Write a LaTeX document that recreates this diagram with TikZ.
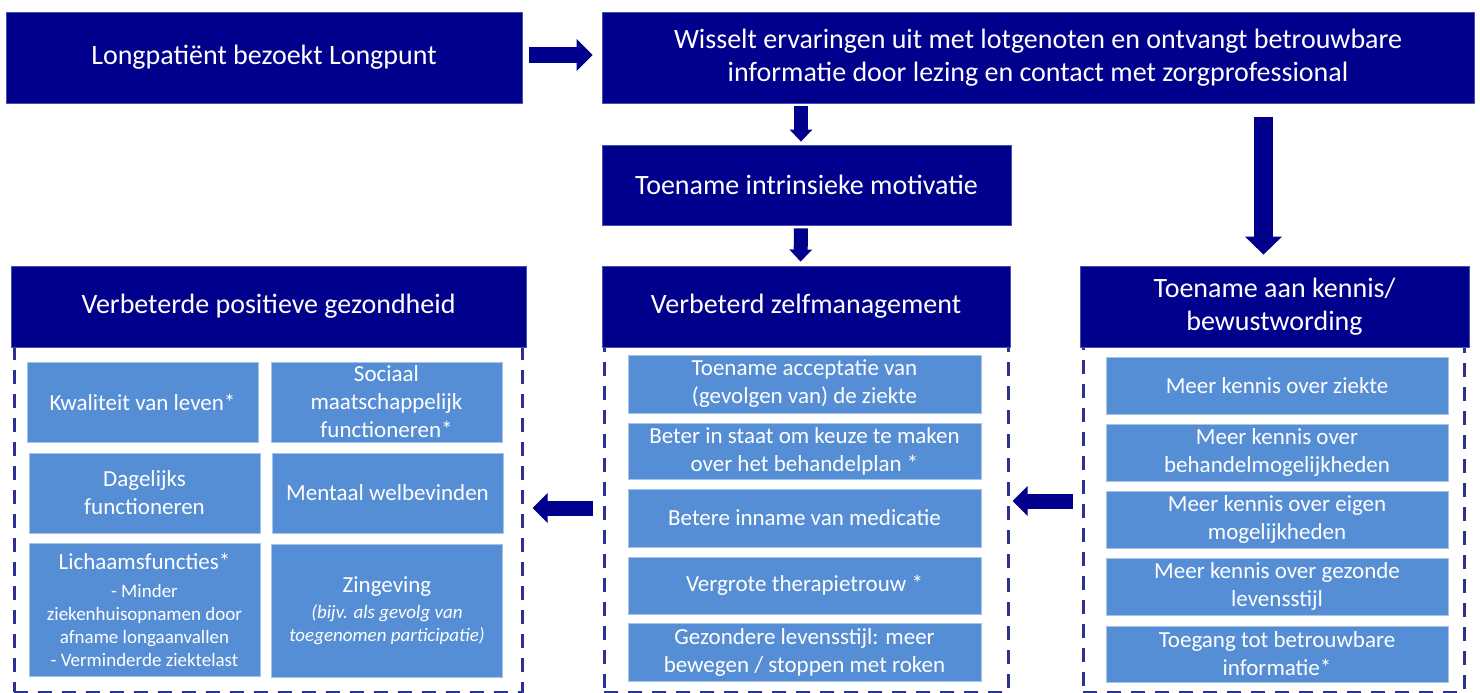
\documentclass[tikz,border=0pt]{standalone}
\usepackage{fontspec}
\setmainfont{Carlito}
\usepackage{tikz}
\usetikzlibrary{arrows.meta}
\definecolor{navyhead}{RGB}{0,0,140}
\definecolor{headline}{RGB}{70,80,175}
\definecolor{itemblue}{RGB}{85,142,213}
\definecolor{itemline}{RGB}{165,195,235}
\definecolor{framecol}{RGB}{45,50,145}
\newcommand{\headfont}{\fontsize{28}{33}\selectfont}
\newcommand{\itemfont}{\fontsize{23}{28}\selectfont}
\newcommand{\notefont}{\fontsize{19}{23}\selectfont}
\tikzset{
  headbox/.style={fill=navyhead, draw=headline, line width=0.8pt, text=white,
    font=\headfont, align=center, inner sep=0pt},
  itembox/.style={fill=itemblue, draw=itemline, line width=0.8pt, text=white,
    font=\itemfont, align=flush center, inner sep=0pt},
  leftitem/.style={itembox, minimum width=231pt, text width=225pt},
  miditem/.style={itembox, minimum width=353pt, text width=345pt},
  rightitem/.style={itembox, minimum width=342pt, text width=334pt},
  framebox/.style={draw=framecol, line width=3pt, dash pattern=on 14pt off 10pt, inner sep=0pt},
  blockarrow/.style={draw=navyhead, line width=#1},
}

\begin{document}
\begin{tikzpicture}[x=1pt, y=-1pt]
    \useasboundingbox (0,0) rectangle (1480,693);
    % dashed frames
    \node[framebox, minimum width=508pt, minimum height=349pt] (leftframe) at (268, 517.5){};
    \node[framebox, minimum width=404pt, minimum height=349pt] (midframe) at (806, 517.5){};
    \node[framebox, minimum width=381pt, minimum height=349pt] (rightframe) at (1273.5, 517.5){};
    % headers
    \node[headbox, minimum width=516pt, minimum height=91pt] (A) at (264, 57.5){Longpatiënt bezoekt Longpunt};
    \node[headbox, minimum width=872pt, minimum height=91pt] (B) at (1038, 57.5){Wisselt ervaringen uit met lotgenoten en ontvangt betrouwbare\\informatie door lezing en contact met zorgprofessional};
    \node[headbox, minimum width=409pt, minimum height=80pt] (C) at (806.5, 185){Toename intrinsieke motivatie};
    \node[headbox, minimum width=408pt, minimum height=81pt] (D) at (806, 306.5){Verbeterd zelfmanagement};
    \node[headbox, minimum width=389pt, minimum height=81pt] (E) at (1274.5, 306.5){Toename aan kennis/\\bewustwording};
    \node[headbox, minimum width=515pt, minimum height=81pt] (F) at (268.5, 306.5){Verbeterde positieve gezondheid};
    % positieve gezondheid
    \node[leftitem, minimum height=80pt] (kwaliteit) at (142.5, 402){Kwaliteit van leven*};
    \node[leftitem, minimum height=80pt] (sociaal) at (386.5, 402){Sociaal\\maatschappelijk\\functioneren*};
    \node[leftitem, minimum height=80pt] (dagelijks) at (144.5, 493){Dagelijks\\functioneren};
    \node[leftitem, minimum height=80pt] (mentaal) at (387.5, 493){Mentaal welbevinden};
    \node[leftitem, minimum height=133pt] (lichaam) at (144.5, 609.5){Lichaamsfuncties*\par\vspace{5pt}
      {\notefont - Minder\\ziekenhuisopnamen door\\afname longaanvallen\\- Verminderde ziektelast\par}};
    \node[leftitem, minimum height=133pt] (zingeving) at (387, 610.5){Zingeving\par\vspace{3pt}
      {\notefont\itshape (bijv. als gevolg van\\toegenomen participatie)\par}};
    % zelfmanagement
    \node[miditem, minimum height=58pt] (acceptatie) at (804.5, 384){Toename acceptatie van\\(gevolgen van) de ziekte};
    \node[miditem, minimum height=56pt] (keuze) at (804.5, 451){Beter in staat om keuze te maken\\over het behandelplan *};
    \node[miditem, minimum height=58pt] (medicatie) at (804.5, 518){Betere inname van medicatie};
    \node[miditem, minimum height=57pt] (therapie) at (804.5, 585.5){Vergrote therapietrouw *};
    \node[miditem, minimum height=58pt] (leefstijl) at (804.5, 652){Gezondere levensstijl: meer\\bewegen / stoppen met roken};
    % kennis
    \node[rightitem, minimum height=57pt] (ziekte) at (1277, 385.5){Meer kennis over ziekte};
    \node[rightitem, minimum height=57pt] (behandel) at (1277, 452.5){Meer kennis over\\behandelmogelijkheden};
    \node[rightitem, minimum height=57pt] (eigen) at (1277, 519.5){Meer kennis over eigen\\mogelijkheden};
    \node[rightitem, minimum height=57pt] (gezond) at (1277, 586.5){Meer kennis over gezonde\\levensstijl};
    \node[rightitem, minimum height=56pt] (toegang) at (1277, 654){Toegang tot betrouwbare\\informatie*};
    % arrows
    \draw[blockarrow=16pt, -{Triangle[width=31pt, length=16pt]}, shorten <=7pt, shorten >=9pt]
      ([yshift=2.5pt]A.east) -- ([yshift=2.5pt]B.west);
    \draw[blockarrow=14pt, -{Triangle[width=22pt, length=12pt]}, shorten <=3pt, shorten >=3pt]
      ([xshift=-5.5pt]B.south -| C.north) -- ([xshift=-5.5pt]C.north);
    \draw[blockarrow=14pt, -{Triangle[width=22pt, length=12pt]}, shorten <=3pt, shorten >=4pt]
      ([xshift=-5.5pt]C.south) -- ([xshift=-5.5pt]D.north);
    \draw[blockarrow=19pt, -{Triangle[width=36pt, length=18pt]}, shorten <=14pt, shorten >=11pt]
      ([xshift=-11pt]B.south -| E.north) -- ([xshift=-11pt]E.north);
    \draw[blockarrow=15pt, -{Triangle[width=29pt, length=15pt]}, shorten <=10pt, shorten >=9pt]
      ([yshift=9.5pt]midframe.west) -- ([yshift=9.5pt]leftframe.east);
    \draw[blockarrow=15pt, -{Triangle[width=29pt, length=15pt]}, shorten <=9pt, shorten >=3pt]
      ([yshift=16.5pt]rightframe.west) -- ([yshift=16.5pt]midframe.east);
\end{tikzpicture}
\end{document}
